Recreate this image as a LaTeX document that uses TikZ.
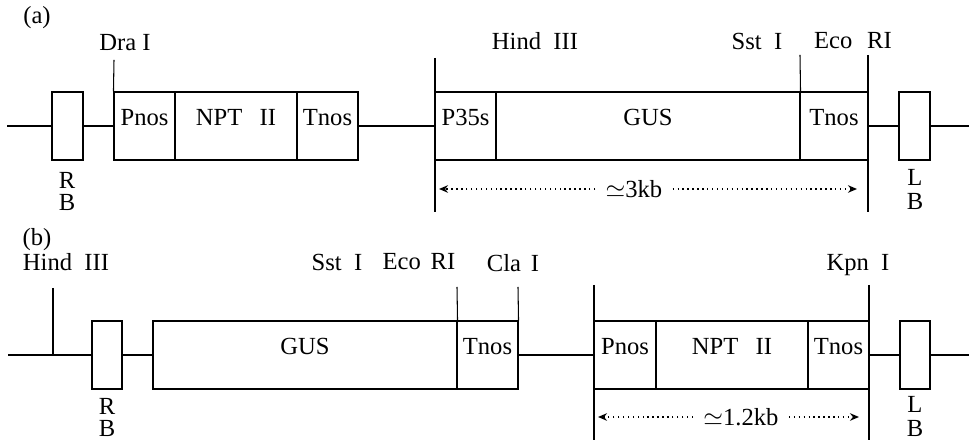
\documentclass[tikz,border=0pt]{standalone}
\usepackage{fontspec}
\setmainfont{Liberation Serif}
\usetikzlibrary{arrows.meta,fit}

\begin{document}
\begin{tikzpicture}[
  x=0.2mm, y=-0.2mm,
  dna/.style={line width=0.6pt},
  seg/.style={draw, line width=0.6pt, inner sep=0pt, font=\fontsize{14}{16}\selectfont},
  border/.style={draw, line width=0.6pt, inner sep=0pt},
  site/.style={inner sep=0pt, font=\fontsize{14}{16}\selectfont},
  span/.style={dotted, line width=0.8pt, -{Stealth[length=1.8mm, width=1.5mm]}},
  spantext/.style={inner xsep=2mm, inner ysep=0pt, font=\fontsize{14}{16}\selectfont},
]

\useasboundingbox (0,0) rectangle (969,440);

% (a)
\node[site] (tagA) at (37,18) {(a)};

\coordinate (startA) at (7,126);
\coordinate (endA) at (969,126);

\node[border, fit={(52,92) (83,160)}] (rbA) {};
\node[seg, fit={(114,92) (175,160)}] (pnosA) {Pnos};
\node[seg, fit={(175,92) (297,160)}] (nptA) {NPT\hspace{0.7em}II};
\node[seg, fit={(297,92) (358,160)}] (tnosA) {Tnos};
\node[seg, fit={(435,92) (496,160)}] (p35A) {P35s};
\node[seg, fit={(496,92) (800,160)}] (gusA) {GUS};
\node[seg, fit={(800,92) (868,160)}] (tnosAA) {Tnos};
\node[border, fit={(899,92) (930,160)}] (lbA) {};

\draw[dna] (startA) -- (rbA.west);
\draw[dna] (rbA.east) -- (pnosA.west);
\draw[dna] (tnosA.east) -- (p35A.west);
\draw[dna] (tnosAA.east) -- (lbA.west);
\draw[dna] (lbA.east) -- (endA);

% restriction sites
\node[site] (draAtag) at (125,43) {Dra I};
\node[site] (hindAtag) at (535,41) {Hind\hspace{0.5em}III};
\node[site] (sstAtag) at (757,41) {Sst\hspace{0.5em}I};
\node[site] (ecoAtag) at (853,41) {Eco\hspace{0.6em}RI};

\coordinate (draA) at (114,60);
\coordinate (hindA) at (435,58);
\coordinate (hindAlow) at (435,212);
\coordinate (sstA) at (800,55);
\coordinate (ecoA) at (868,55);
\coordinate (ecoAlow) at (868,212);

\draw[dna] (draA) -- (pnosA.north west);
\draw[dna] (hindA) -- (hindAlow);
\draw[dna] (sstA) -- (gusA.north east);
\draw[dna] (ecoA) -- (ecoAlow);

\node[site] (rbAr) at (67,180) {R};
\node[site] (rbAb) at (67,202) {B};
\node[site] (lbAl) at (915,177) {L};
\node[site] (lbAb) at (915,201) {B};

% insert length
\node[spantext] (kbA) at (634,189) {$\simeq$3kb};
\coordinate (kbAl) at (439,189);
\coordinate (kbAr) at (857,189);
\draw[span] (kbA.west) -- (kbAl);
\draw[span] (kbA.east) -- (kbAr);

% (b)
\node[site] (tagB) at (37,240) {(b)};

\coordinate (startB) at (8,355);
\coordinate (endB) at (969,355);

\node[border, fit={(92,321) (122,389)}] (rbB) {};
\node[seg, fit={(153,321) (457,389)}] (gusB) {GUS};
\node[seg, fit={(457,321) (518,389)}] (tnosB) {Tnos};
\node[seg, fit={(594,321) (656,389)}] (pnosB) {Pnos};
\node[seg, fit={(656,321) (808,389)}] (nptB) {NPT\hspace{0.7em}II};
\node[seg, fit={(808,321) (869,389)}] (tnosBB) {Tnos};
\node[border, fit={(900,321) (930,389)}] (lbB) {};

\draw[dna] (startB) -- (rbB.west);
\draw[dna] (rbB.east) -- (gusB.west);
\draw[dna] (tnosB.east) -- (pnosB.west);
\draw[dna] (tnosBB.east) -- (lbB.west);
\draw[dna] (lbB.east) -- (endB);

% restriction sites
\node[site] (hindBtag) at (66,262) {Hind\hspace{0.5em}III};
\node[site] (sstBtag) at (337,262) {Sst\hspace{0.5em}I};
\node[site] (ecoBtag) at (419,262) {Eco\hspace{0.4em}RI};
\node[site] (claBtag) at (513,263) {Cla\hspace{0.4em}I};
\node[site] (kpnBtag) at (858,265) {Kpn\hspace{0.5em}I};

\coordinate (hindB) at (53,288);
\coordinate (ecoB) at (457,287);
\coordinate (claB) at (518,287);
\coordinate (leftB) at (594,285);
\coordinate (leftBlow) at (594,440);
\coordinate (kpnB) at (869,285);
\coordinate (kpnBlow) at (869,440);

\draw[dna] (hindB) -- (hindB |- startB);
\draw[dna] (ecoB) -- (gusB.north east);
\draw[dna] (claB) -- (tnosB.north east);
\draw[dna] (leftB) -- (leftBlow);
\draw[dna] (kpnB) -- (kpnBlow);

\node[site] (rbBr) at (107,406) {R};
\node[site] (rbBb) at (107,428) {B};
\node[site] (lbBl) at (915,404) {L};
\node[site] (lbBb) at (915,428) {B};

% insert length
\node[spantext] (kbB) at (741,417) {$\simeq$1.2kb};
\coordinate (kbBl) at (598,417);
\coordinate (kbBr) at (859,417);
\draw[span] (kbB.west) -- (kbBl);
\draw[span] (kbB.east) -- (kbBr);

\end{tikzpicture}
\end{document}
